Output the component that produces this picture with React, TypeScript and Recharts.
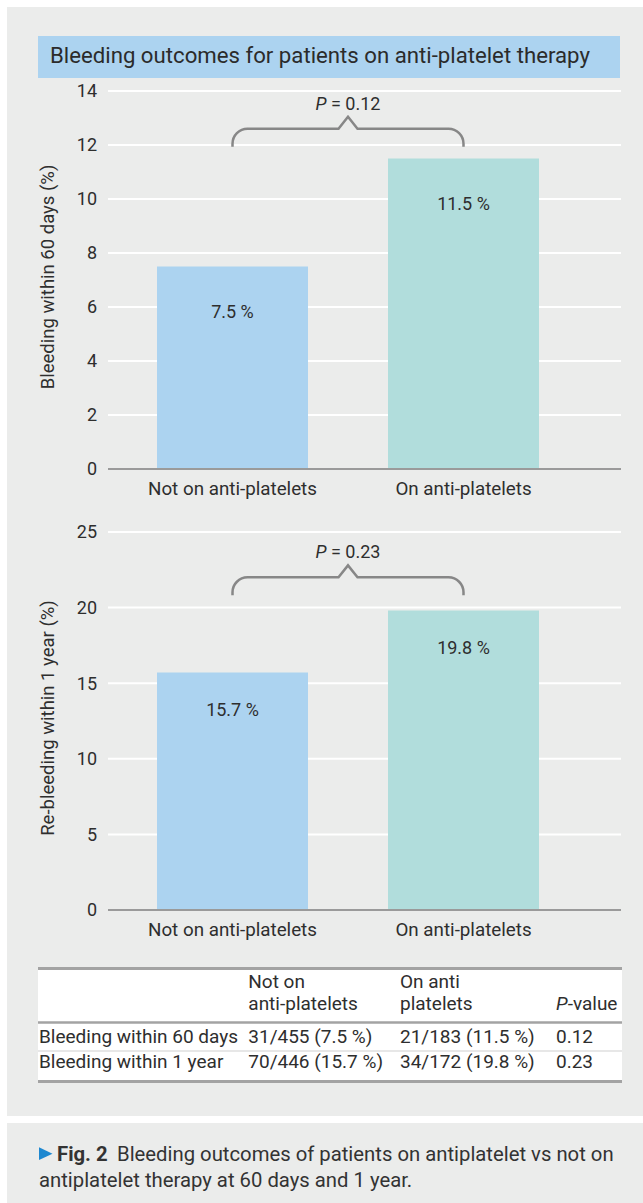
import React from 'react';
import { BarChart, Bar, XAxis, YAxis, CartesianGrid, Cell, LabelList, ReferenceLine } from 'recharts';

// ---------- data ----------
const categories = ['Not on anti-platelets', 'On anti-platelets'];
const bleeding60Values = [7.5, 11.5];
const bleeding1yValues = [15.7, 19.8];
const barColors = ['#acd3f0', '#b1dddc'];
const ticks60 = [0, 2, 4, 6, 8, 10, 12, 14];
const ticks1y = [0, 5, 10, 15, 20, 25];
const pValues = ['0.12', '0.23'];
const bracketLevels = [12.6, 22];
const yTitles = ['Bleeding within 60 days (%)', 'Re-bleeding within 1 year (%)'];

const titleText = 'Bleeding outcomes for patients on anti-platelet therapy';
const tableHeadLine1 = ['', 'Not on', 'On anti', ''];
const tableHeadLine2 = ['', 'anti-platelets', 'platelets', '-value'];
const tableRow1 = ['Bleeding within 60 days', '31/455 (7.5 %)', '21/183 (11.5 %)', '0.12'];
const tableRow2 = ['Bleeding within 1 year', '70/446 (15.7 %)', '34/172 (19.8 %)', '0.23'];
const captionLabel = 'Fig. 2';
const captionLine1 = 'Bleeding outcomes of patients on antiplatelet vs not on';
const captionLine2 = 'antiplatelet therapy at 60 days and 1 year.';

const data60 = categories.map((name, i) => ({ name, value: bleeding60Values[i] }));
const data1y = categories.map((name, i) => ({ name, value: bleeding1yValues[i] }));

// ---------- style ----------
const FONT = 'Roboto, sans-serif';
const TEXT = '#2e2e2e';
const PANEL = '#ebeceb';

const makeBarLabel = (offset: number) => (props: any) => {
  const { x, y, width, value } = props;
  return (
    <text
      x={Number(x) + Number(width) / 2}
      y={Number(y) + offset}
      textAnchor="middle"
      fontSize={18}
      fontFamily={FONT}
      fill={TEXT}
    >
      {`${value} %`}
    </text>
  );
};

const makeBracket = (pText: string) => (props: any) => {
  const x1 = Number(props.x1);
  const x2 = Number(props.x2);
  const yH = Number(props.y1);
  const drop = 18;
  const r = 15;
  const ph = 12;
  const pw = 9.5;
  const xc = (x1 + x2) / 2;
  const d = `M${x1},${yH + drop} L${x1},${yH + r} A${r},${r} 0 0 1 ${x1 + r},${yH} L${xc - pw},${yH} L${xc},${yH - ph} L${xc + pw},${yH} L${x2 - r},${yH} A${r},${r} 0 0 1 ${x2},${yH + r} L${x2},${yH + drop}`;
  return (
    <g>
      <path d={d} fill="none" stroke="#878787" strokeWidth={2.5} strokeLinejoin="miter" />
      <text x={xc} y={yH - ph - 7} textAnchor="middle" fontSize={18} fontFamily={FONT} fill={TEXT}>
        <tspan fontStyle="italic">P</tspan>
        {` = ${pText}`}
      </text>
    </g>
  );
};

const YLabel = (props: any) => {
  const { viewBox, text } = props;
  const cx = Number(viewBox.x) + 53.5;
  const cy = Number(viewBox.y) + Number(viewBox.height) / 2 - 3;
  return (
    <text
      x={cx}
      y={cy}
      transform={`rotate(-90, ${cx}, ${cy})`}
      textAnchor="middle"
      fontSize={18.5}
      fontFamily={FONT}
      fill={TEXT}
    >
      {text}
    </text>
  );
};

type PanelProps = {
  data: { name: string; value: number }[];
  ticks: number[];
  yTitle: string;
  pText: string;
  bracketLevel: number;
  labelOffset: number;
};

const BleedPanel = ({ data, ticks, yTitle, pText, bracketLevel, labelOffset }: PanelProps) => (
  <BarChart width={643} height={419} data={data} margin={{ top: 11, right: 22, bottom: 0, left: 0 }}>
    <CartesianGrid vertical={false} stroke="#ffffff" strokeWidth={2} />
    <XAxis
      dataKey="name"
      interval={0}
      tickLine={false}
      axisLine={{ stroke: '#9a9a9a', strokeWidth: 2 }}
      tick={{ fill: TEXT, fontSize: 18.8, fontFamily: FONT }}
      tickMargin={7}
      height={30}
      padding={{ left: 9, right: 42 }}
    />
    <YAxis
      domain={[ticks[0], ticks[ticks.length - 1]]}
      ticks={ticks}
      interval={0}
      tickLine={false}
      axisLine={false}
      width={108}
      tickMargin={5}
      tick={{ fill: TEXT, fontSize: 18, fontFamily: FONT }}
      label={<YLabel text={yTitle} />}
    />
    <Bar dataKey="value" barSize={151} isAnimationActive={false}>
      {data.map((d, i) => (
        <Cell key={d.name} fill={barColors[i]} />
      ))}
      <LabelList dataKey="value" content={makeBarLabel(labelOffset)} />
    </Bar>
    <ReferenceLine
      segment={[
        { x: categories[0], y: bracketLevel },
        { x: categories[1], y: bracketLevel },
      ]}
      ifOverflow="visible"
      shape={makeBracket(pText)}
    />
  </BarChart>
);

const colX = [39, 248.3, 400, 556];

export default function App() {
  return (
    <div style={{ position: 'absolute', left: 0, top: 0, width: 643, height: 1203, background: '#fff', overflow: 'hidden' }}>
      <svg width={643} height={1203} style={{ position: 'absolute', left: 0, top: 0 }}>
        <rect x={7} y={7} width={636} height={1109} fill={PANEL} />
        <rect x={7} y={1123} width={636} height={80} fill={PANEL} />
        <rect x={38} y={36} width={582} height={42} fill="#acd3f0" />
        <text x={50} y={62.7} fontSize={22.2} fontFamily={FONT} fill="#2b2b2b">
          {titleText}
        </text>

        {/* table */}
        <rect x={38} y={968} width={584} height={114} fill="#ffffff" />
        <line x1={38} x2={622} y1={968.5} y2={968.5} stroke="#a3a3a3" strokeWidth={3} />
        <line x1={38} x2={622} y1={1022.5} y2={1022.5} stroke="#a3a3a3" strokeWidth={2.5} />
        <line x1={38} x2={622} y1={1051} y2={1051} stroke="#cfcfcf" strokeWidth={1} />
        <line x1={38} x2={622} y1={1081.5} y2={1081.5} stroke="#a3a3a3" strokeWidth={3} />
        <g fontSize={19} fontFamily={FONT} fill={TEXT}>
          {tableHeadLine1.map((t, i) => (
            <text key={'h1' + i} x={colX[i]} y={988.3}>{t}</text>
          ))}
          {tableHeadLine2.map((t, i) => (
            <text key={'h2' + i} x={colX[i]} y={1010}>
              {i === 3 ? <tspan fontStyle="italic">P</tspan> : null}
              {t}
            </text>
          ))}
          {tableRow1.map((t, i) => (
            <text key={'r1' + i} x={colX[i]} y={1043.3}>{t}</text>
          ))}
          {tableRow2.map((t, i) => (
            <text key={'r2' + i} x={colX[i]} y={1068.3}>{t}</text>
          ))}
        </g>

        {/* caption */}
        <polygon points="39,1147.3 52.5,1153.7 39,1160" fill="#1e88d0" />
        <g fontSize={20.3} fontFamily={FONT} fill="#333333">
          <text x={57} y={1160.7} fontWeight="bold">{captionLabel}</text>
          <text x={117} y={1160.7}>{captionLine1}</text>
          <text x={39} y={1186.7}>{captionLine2}</text>
        </g>
      </svg>

      <div style={{ position: 'absolute', left: 0, top: 80 }}>
        <BleedPanel
          data={data60}
          ticks={ticks60}
          yTitle={yTitles[0]}
          pText={pValues[0]}
          bracketLevel={bracketLevels[0]}
          labelOffset={51}
        />
      </div>
      <div style={{ position: 'absolute', left: 0, top: 521 }}>
        <BleedPanel
          data={data1y}
          ticks={ticks1y}
          yTitle={yTitles[1]}
          pText={pValues[1]}
          bracketLevel={bracketLevels[1]}
          labelOffset={43}
        />
      </div>
    </div>
  );
}
